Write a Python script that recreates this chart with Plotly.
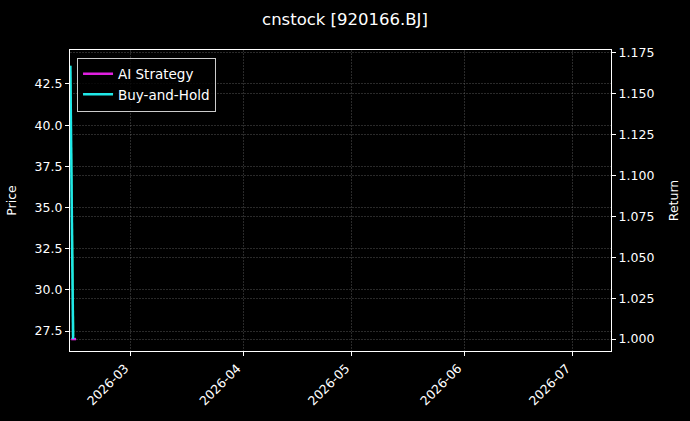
import plotly.graph_objects as go

TITLE = "cnstock [920166.BJ]"

# price (left axis), mostly hidden behind the buy-and-hold line
price_dates = ["2026-02-12 06:00", "2026-02-12 20:00", "2026-02-13 04:00"]
price_values = [43.6, 32.0, 27.2]

# returns (right axis)
bh_dates = ["2026-02-12 06:00", "2026-02-13 00:00"]
bh_values = [1.167, 1.0]
ai_dates = ["2026-02-12 12:00", "2026-02-13 20:00"]
ai_values = [1.0, 1.0]

month_ticks = ["2026-03-01", "2026-04-01", "2026-05-01", "2026-06-01", "2026-07-01"]

FONT = "DejaVu Sans"
GRID = "rgba(120,120,120,0.35)"

fig = go.Figure()
fig.add_trace(go.Scatter(x=price_dates, y=price_values, mode="lines",
                         line=dict(color="#22aa44", width=1.5),
                         showlegend=False, yaxis="y"))
fig.add_trace(go.Scatter(x=ai_dates, y=ai_values, mode="lines", name="AI Strategy",
                         line=dict(color="#e020e0", width=2.5), yaxis="y2"))
fig.add_trace(go.Scatter(x=bh_dates, y=bh_values, mode="lines", name="Buy-and-Hold",
                         line=dict(color="#20e8e8", width=2.5), yaxis="y2"))

axis_common = dict(showline=True, linecolor="white", linewidth=1.2,
                   ticks="outside", tickcolor="white", ticklen=4,
                   tickfont=dict(color="white", size=12.5, family=FONT),
                   showgrid=True, gridcolor=GRID, gridwidth=0.5, griddash="2px,1px",
                   zeroline=False)

fig.update_layout(
    width=690, height=421,
    paper_bgcolor="black", plot_bgcolor="black",
    font=dict(family=FONT, color="white", size=12),
    title=dict(text=TITLE, x=0.5, xanchor="center", y=0.955, yanchor="middle",
               font=dict(size=16.5, color="white", family=FONT)),
    margin=dict(l=70, r=79, t=50, b=70),
    xaxis=dict(axis_common, type="date", range=["2026-02-12 03:40", "2026-07-11 14:00"],
               tickvals=month_ticks, tickformat="%Y-%m", tickangle=-45, mirror=True,
               ticklabelshift=-6),
    yaxis=dict(axis_common, range=[26.29, 44.56], dtick=2.5, tick0=27.5,
               tickformat=".1f", title=dict(text="Price", font=dict(size=12.5, color="white"))),
    yaxis2=dict(axis_common, overlaying="y", side="right", range=[0.9927, 1.1767],
                dtick=0.025, tick0=1.0, tickformat=".3f",
                title=dict(text="Return", font=dict(size=12.5, color="white"))),
    legend=dict(x=0.013, y=0.975, xanchor="left", yanchor="top",
                bgcolor="rgba(0,0,0,0.8)", bordercolor="#cccccc", borderwidth=1,
                font=dict(size=13.5, color="white", family=FONT)),
)

fig.write_html("out.html", config={"displayModeBar": False},
               post_script="document.body.style.margin='0';document.body.style.background='black';")
